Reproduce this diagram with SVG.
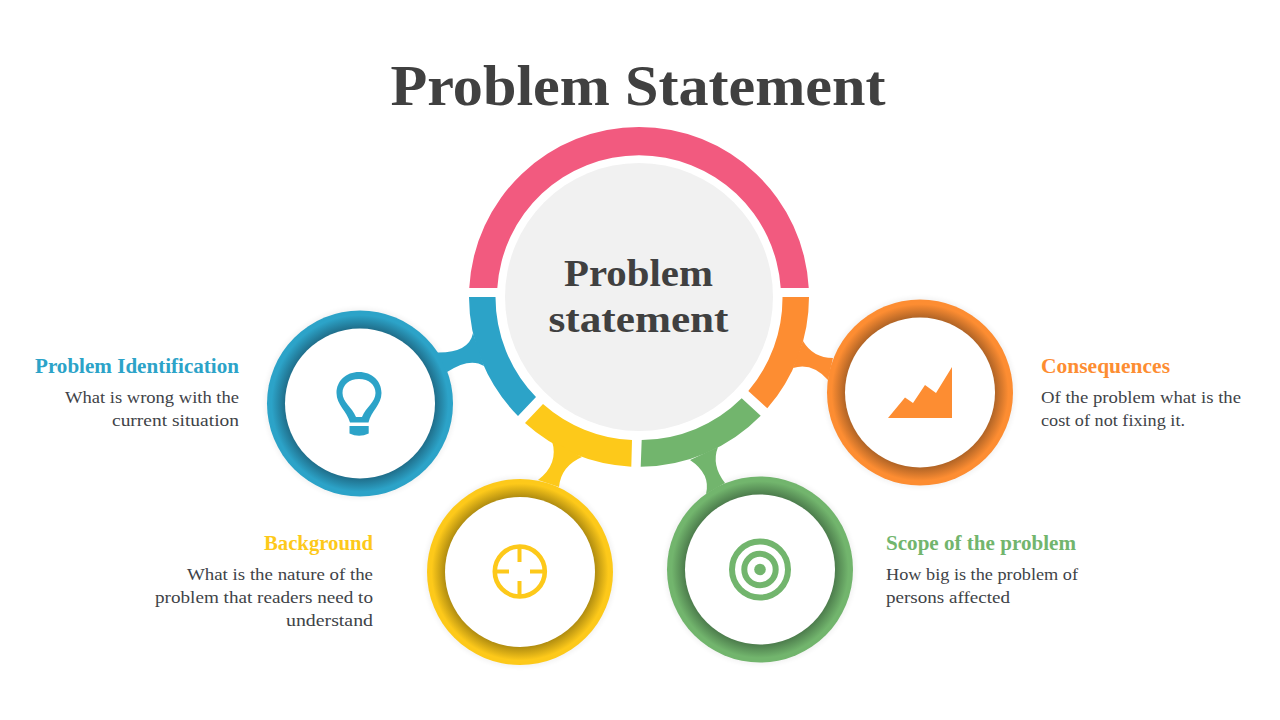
<svg xmlns="http://www.w3.org/2000/svg" width="1280" height="720" viewBox="0 0 1280 720">
<style>
.t{font-family:"Liberation Serif","DejaVu Serif",serif;}
.h{font-weight:700;font-size:21.500px}
.b{font-size:17.500px;fill:#404347}
.hole{fill:#fff}
.sh{fill:#000;opacity:.05}
</style>
<defs>
<filter id="sh" x="-20%" y="-20%" width="140%" height="140%"><feGaussianBlur stdDeviation="2.500"/></filter>
<radialGradient id="gb"><stop offset="0.8" stop-color="#1f6c88"/><stop offset="0.95" stop-color="#2ca3c8"/></radialGradient>
<radialGradient id="gy"><stop offset="0.8" stop-color="#ad8a10"/><stop offset="0.95" stop-color="#fdc91a"/></radialGradient>
<radialGradient id="gg"><stop offset="0.8" stop-color="#4b7a4b"/><stop offset="0.95" stop-color="#72b56d"/></radialGradient>
<radialGradient id="go"><stop offset="0.8" stop-color="#ad6225"/><stop offset="0.95" stop-color="#fd8d32"/></radialGradient>
</defs>
<rect width="1280" height="720" fill="#fff"/>
<text class="t" x="638" y="105" text-anchor="middle" font-size="57" font-weight="700" fill="#404040" textLength="495" lengthAdjust="spacingAndGlyphs">Problem Statement</text>
<g id="center">
<path fill="#f25a7f" d="M469.240 288A170 170 0 0 1 808.760 288H780.700A142 142 0 0 0 497.300 288Z"/>
<circle cx="639" cy="297" r="134" fill="#f1f1f1"/>
<text class="t" x="638.500" y="286" text-anchor="middle" font-size="37" font-weight="700" fill="#404040" textLength="149" lengthAdjust="spacingAndGlyphs">Problem</text>
<text class="t" x="638.500" y="332" text-anchor="middle" font-size="37" font-weight="700" fill="#404040" textLength="180" lengthAdjust="spacingAndGlyphs">statement</text>
</g>
<g id="node-identification">
<path fill="#2ca3c8" d="M469 297H495.500A143.500 143.500 0 0 0 536 397L518 416A170 170 0 0 1 469 297Z"/>
<circle class="sh" cx="360" cy="403.500" r="95" filter="url(#sh)"/>
<circle cx="360" cy="403.500" r="93" fill="url(#gb)"/>
<circle class="hole" cx="360" cy="403.500" r="75"/>
<g fill="#2ca3c8">
<path fill-rule="evenodd" d="M359 372C346 372 336.500 381 336.500 393C336.500 405 347 411 350 422.500H368.500C371 411 381.500 405 381.500 393C381.500 381 372 372 359 372ZM359 379C349 379 342.500 385 342.500 393C342.500 402 352 407 356 417H362C366 407 375.500 402 375.500 393C375.500 385 369 379 359 379Z"/>
<path d="M349.500 426H368.700V433.500Q359 438 349.500 433.500Z"/>
</g>
<text class="t h" x="239" y="373" text-anchor="end" fill="#2ca3c8" textLength="204" lengthAdjust="spacingAndGlyphs">Problem Identification</text>
<text class="t b" x="239" y="403" text-anchor="end" textLength="174" lengthAdjust="spacingAndGlyphs">What is wrong with the</text>
<text class="t b" x="239" y="426" text-anchor="end" textLength="127" lengthAdjust="spacingAndGlyphs">current situation</text>
</g>
<g id="node-background">
<path fill="#fdc91a" d="M525 423L543 404A143.500 143.500 0 0 0 632 440L631.300 466.700A170 170 0 0 1 525 423Z"/>
<circle class="sh" cx="520" cy="572" r="95" filter="url(#sh)"/>
<circle cx="520" cy="572" r="93" fill="url(#gy)"/>
<circle class="hole" cx="520" cy="572" r="75"/>
<g fill="none" stroke="#fdc91a">
<circle cx="519.800" cy="571.500" r="25" stroke-width="4.600"/>
<path stroke-width="4" d="M519.500 547V562M519.500 581V596M495 571.500H509M530 571.500H544"/>
</g>
<text class="t h" x="373" y="550" text-anchor="end" fill="#fdc91a" textLength="109" lengthAdjust="spacingAndGlyphs">Background</text>
<text class="t b" x="373" y="580" text-anchor="end" textLength="186" lengthAdjust="spacingAndGlyphs">What is the nature of the</text>
<text class="t b" x="373" y="603" text-anchor="end" textLength="218" lengthAdjust="spacingAndGlyphs">problem that readers need to</text>
<text class="t b" x="373" y="626" text-anchor="end" textLength="87" lengthAdjust="spacingAndGlyphs">understand</text>
</g>
<g id="node-scope">
<path fill="#72b56d" d="M641.700 440A143.500 143.500 0 0 0 741.700 398.300L760.700 415.700A170 170 0 0 1 640.700 466.700Z"/>
<circle class="sh" cx="760" cy="569.500" r="95" filter="url(#sh)"/>
<circle cx="760" cy="569.500" r="93" fill="url(#gg)"/>
<circle class="hole" cx="760" cy="569.500" r="75"/>
<g fill="none" stroke="#72b56d" stroke-width="6">
<circle cx="760" cy="569.500" r="28"/>
<circle cx="760" cy="569.500" r="15.700"/>
</g>
<circle cx="760" cy="569.500" r="5.800" fill="#72b56d"/>
<text class="t h" x="886" y="550" fill="#72b56d" textLength="190" lengthAdjust="spacingAndGlyphs">Scope of the problem</text>
<text class="t b" x="886" y="580" textLength="192" lengthAdjust="spacingAndGlyphs">How big is the problem of</text>
<text class="t b" x="886" y="603" textLength="124" lengthAdjust="spacingAndGlyphs">persons affected</text>
</g>
<g id="node-consequences">
<path fill="#fd8d32" d="M782.500 297H809A170 170 0 0 1 767.300 408.300L748.300 391A143.500 143.500 0 0 0 782.500 297Z"/>
<circle class="sh" cx="920" cy="392.500" r="95" filter="url(#sh)"/>
<circle cx="920" cy="392.500" r="93" fill="url(#go)"/>
<circle class="hole" cx="920" cy="392.500" r="75"/>
<path fill="#fd8d32" d="M888 418L905 397.500L913 403L925 385L936 393L952 367V418Z"/>
<text class="t h" x="1041" y="373" fill="#fd8d32" textLength="129" lengthAdjust="spacingAndGlyphs">Consequences</text>
<text class="t b" x="1041" y="403" textLength="200" lengthAdjust="spacingAndGlyphs">Of the problem what is the</text>
<text class="t b" x="1041" y="426" textLength="144" lengthAdjust="spacingAndGlyphs">cost of not fixing it.</text>
</g>
<g id="connectors">
<path fill="#2ca3c8" d="M473 333Q469 353 437 352.500L447 372Q470 357 484 366Z"/>
<path fill="#fdc91a" d="M552 441Q559 464 538 480L559 487Q561 466 582 457Z"/>
<path fill="#72b56d" d="M690 460Q711 474 706 494L725 483Q711 465 718 447Z"/>
<path fill="#fd8d32" d="M803 341Q813 358 833 358L828 380Q812 362 793 368Z"/>
</g>
</svg>
